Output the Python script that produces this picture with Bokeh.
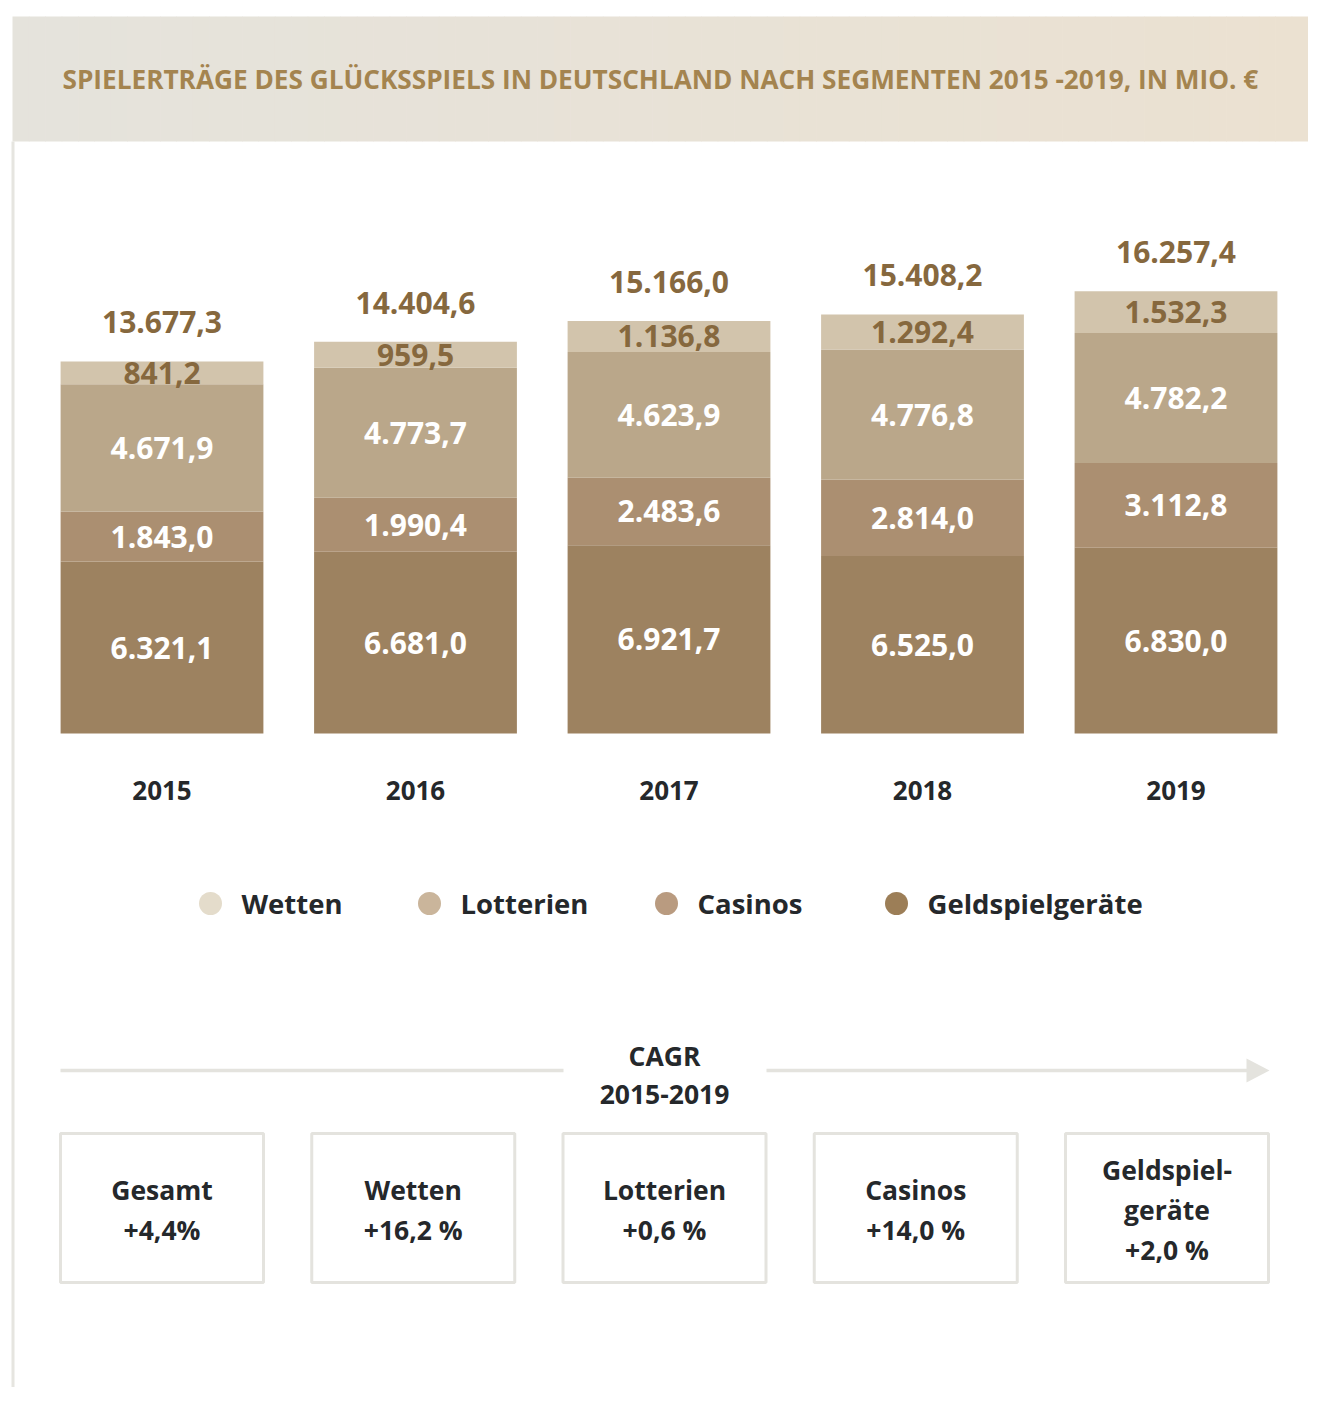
from bokeh.plotting import figure
from bokeh.models import Range1d, ColumnDataSource
from bokeh.embed import file_html
from bokeh.resources import INLINE
from bokeh.core.properties import value

# ---------------- data ----------------
years = [2015, 2016, 2017, 2018, 2019]
year_labels = ["2015", "2016", "2017", "2018", "2019"]
geld = [6321.1, 6681.0, 6921.7, 6525.0, 6830.0]
casinos = [1843.0, 1990.4, 2483.6, 2814.0, 3112.8]
lotterien = [4671.9, 4773.7, 4623.9, 4776.8, 4782.2]
wetten = [841.2, 959.5, 1136.8, 1292.4, 1532.3]
totals = [13677.3, 14404.6, 15166.0, 15408.2, 16257.4]
legend_names = ["Wetten", "Lotterien", "Casinos", "Geldspielgeräte"]
cagr_names = ["Gesamt", "Wetten", "Lotterien", "Casinos", "Geldspiel-\ngeräte"]
cagr_values = ["+4,4%", "+16,2 %", "+0,6 %", "+14,0 %", "+2,0 %"]
title = "SPIELERTRÄGE DES GLÜCKSSPIELS IN DEUTSCHLAND NACH SEGMENTEN 2015 -2019, IN MIO. €"

# ---------------- style ----------------
FONT = value("Open Sans")
bar_colors = {"geld": "#9d8260", "casinos": "#ab8f71", "lotterien": "#baa78a", "wetten": "#d2c4ac"}
legend_colors = ["#e4dccb", "#cab59b", "#b99b80", "#9c7e57"]
brown_text = "#86683e"
dark = "#25282b"
line_grey = "#e4e3de"

W, H = 1308, 1387
OFF = 0  # figure origin in the screenshot
BASE_Y = 733  # image y of bar baseline
K = 0.0272  # px per Mio €
PITCH = 253.5
FIRST_CX = 161.5


def de(v):
    s = f"{v:,.1f}"
    return s.replace(",", "X").replace(".", ",").replace("X", ".")


p = figure(
    width=W, height=H, output_backend="svg", toolbar_location=None,
    x_axis_type=None, y_axis_type=None, min_border=0,
    x_range=Range1d(2015 - (FIRST_CX - OFF) / PITCH, 2015 + (OFF + W - FIRST_CX) / PITCH),
    y_range=Range1d((BASE_Y - (OFF + H)) / K, (BASE_Y - OFF) / K),
)
p.outline_line_color = None
p.grid.visible = False
p.background_fill_color = "white"
p.border_fill_color = "white"

# pixel-space ranges for decorations
p.extra_x_ranges = {"px": Range1d(OFF, OFF + W)}
p.extra_y_ranges = {"py": Range1d(OFF + H, OFF)}

# title band with horizontal gradient
c0 = (229, 227, 220)
c1 = (235, 225, 209)
n = 80
x0, x1 = 12, 1324
xs_l, xs_r, cols = [], [], []
for i in range(n):
    t = i / (n - 1)
    xs_l.append(x0 + (x1 - x0) * i / n)
    xs_r.append(x0 + (x1 - x0) * (i + 1) / n + 0.6)
    c = tuple(int(round(c0[j] + (c1[j] - c0[j]) * t)) for j in range(3))
    cols.append("#%02x%02x%02x" % c)
p.quad(left=xs_l, right=xs_r, top=[16] * n, bottom=[141] * n, fill_color=cols,
       line_color=None, x_range_name="px", y_range_name="py")
p.text(x=[62], y=[78], text=[title], x_range_name="px", y_range_name="py",
       text_font=FONT, text_font_style="bold", text_font_size="26.2px",
       text_color="#a4844f", text_align="left", text_baseline="middle")

# left border line
p.quad(left=[11], right=[14], top=[141], bottom=[1403], fill_color="#e6e5e0",
       line_color=None, x_range_name="px", y_range_name="py")

# ---------------- stacked bars ----------------
src = ColumnDataSource(dict(year=years, geld=geld, casinos=casinos,
                            lotterien=lotterien, wetten=wetten))
stack = ["geld", "casinos", "lotterien", "wetten"]
p.vbar_stack(stack, x="year", width=0.8, source=src,
             color=[bar_colors[s] for s in stack], line_color=None)

# segment labels
lab_x, lab_y, lab_t, lab_c = [], [], [], []
series = {"geld": geld, "casinos": casinos, "lotterien": lotterien, "wetten": wetten}
for i, yr in enumerate(years):
    bottom = 0.0
    for s in stack:
        v = series[s][i]
        lab_x.append(yr)
        lab_y.append(bottom + v / 2)
        lab_t.append(de(v))
        lab_c.append(brown_text if s == "wetten" else "white")
        bottom += v
p.text(x=lab_x, y=lab_y, text=lab_t, text_color=lab_c, text_align="center",
       text_baseline="middle", text_font=FONT, text_font_style="bold",
       text_font_size="30px")

# total labels
p.text(x=years, y=[t + 39 / K for t in totals], text=[de(t) for t in totals],
       text_color=brown_text, text_align="center", text_baseline="middle",
       text_font=FONT, text_font_style="bold", text_font_size="30px")

# year labels
p.text(x=years, y=[(BASE_Y - 790) / K] * len(years), text=year_labels,
       text_color=dark, text_align="center", text_baseline="middle",
       text_font=FONT, text_font_style="bold", text_font_size="26px")

# ---------------- legend ----------------
leg_cx = [210, 429, 666, 896]
p.scatter(x=leg_cx, y=[903] * 4, size=23, marker="circle", fill_color=legend_colors,
          line_color=None, x_range_name="px", y_range_name="py")
p.text(x=[c + 31 for c in leg_cx], y=[903] * 4, text=legend_names, text_color=dark,
       text_align="left", text_baseline="middle", text_font=FONT,
       text_font_style="bold", text_font_size="27.5px",
       x_range_name="px", y_range_name="py")

# ---------------- CAGR ----------------
p.segment(x0=[60, 766], y0=[1070, 1070], x1=[563, 1250], y1=[1070, 1070],
          line_color=line_grey, line_width=3.5, x_range_name="px", y_range_name="py")
p.patch(x=[1246, 1269, 1246], y=[1058, 1070, 1082], fill_color=line_grey,
        line_color=None, x_range_name="px", y_range_name="py")
p.text(x=[664, 664], y=[1055, 1094], text=["CAGR", "2015-2019"], text_color=dark,
       text_align="center", text_baseline="middle", text_font=FONT,
       text_font_style="bold", text_font_size="26.5px",
       x_range_name="px", y_range_name="py")

box_l = [60 + i * 251.25 for i in range(5)]
p.quad(left=box_l, right=[b + 203 for b in box_l], top=[1133] * 5, bottom=[1282] * 5,
       fill_color=None, line_color=line_grey, line_width=3,
       x_range_name="px", y_range_name="py")
bx, by, bt = [], [], []
for i, (nm, vl) in enumerate(zip(cagr_names, cagr_values)):
    lines = nm.split("\n") + [vl]
    start = 1209 - (len(lines) - 1) * 40 / 2
    for j, ln in enumerate(lines):
        bx.append(box_l[i] + 101.5)
        by.append(start + j * 40)
        bt.append(ln)
p.text(x=bx, y=by, text=bt, text_color=dark, text_align="center",
       text_baseline="middle", text_font=FONT, text_font_style="bold",
       text_font_size="26.5px", x_range_name="px", y_range_name="py")

open("out.html", "w").write(file_html(p, INLINE))
